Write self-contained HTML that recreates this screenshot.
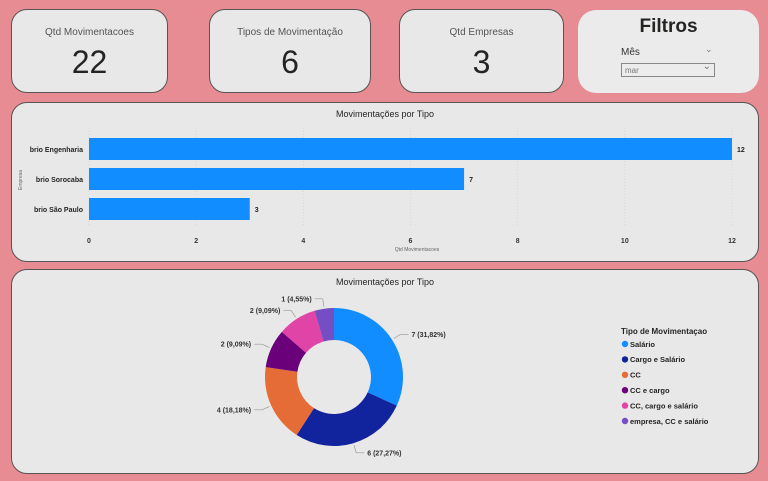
<!DOCTYPE html>
<html><head><meta charset="utf-8"><style>
body{margin:0;width:768px;height:481px;background:#e88c94;font-family:"Liberation Sans","DejaVu Sans",sans-serif;position:relative;overflow:hidden}
.card{position:absolute;background:#e8e8e8;border:1px solid #555;border-radius:16px;box-sizing:border-box}
.kpi .lbl{position:absolute;top:17px;width:100%;text-align:center;font-size:10px;color:#555}
.kpi .val{position:absolute;top:34px;width:100%;text-align:center;font-size:32px;color:#252423}
svg text{font-family:"Liberation Sans","DejaVu Sans",sans-serif}
</style></head><body>
<div class="card kpi" style="left:11px;top:9px;width:157px;height:84px"><div class="lbl">Qtd Movimentacoes</div><div class="val">22</div></div>
<div class="card kpi" style="left:209px;top:9px;width:162px;height:84px"><div class="lbl">Tipos de Movimentação</div><div class="val">6</div></div>
<div class="card kpi" style="left:399px;top:9px;width:165px;height:84px"><div class="lbl">Qtd Empresas</div><div class="val">3</div></div>
<div style="position:absolute;left:578px;top:10px;width:181px;height:83px;background:#ebebeb;border-radius:18px">
<div style="position:absolute;top:6px;width:100%;text-align:center;font-size:19px;font-weight:bold;color:#252423">Filtros</div>
<div style="position:absolute;left:43px;top:37px;font-size:10px;color:#333">Mês</div>
<div style="position:absolute;left:127px;top:34px;font-size:9px;color:#777">&#8964;</div>
<div style="position:absolute;left:43px;top:53px;width:94px;height:14px;border:1px solid #888;box-sizing:border-box;font-size:8px;color:#777;padding:2px 3px;background:#ececec">mar<span style="position:absolute;right:3px;top:-3px;font-size:10px">&#8964;</span></div>
</div>
<div class="card" style="left:11px;top:102px;width:748px;height:160px"></div>
<div class="card" style="left:11px;top:269px;width:748px;height:205px"></div>
<svg id="chart" width="768" height="481" style="position:absolute;left:0;top:0"></svg>
<script>
const companies=["brio Engenharia","brio Sorocaba","brio São Paulo"];
const counts=[12,7,3];
const xTicks=[0,2,4,6,8,10,12];
const types=["Salário","Cargo e Salário","CC","CC e cargo","CC, cargo e salário","empresa, CC e salário"];
const typeCounts=[7,6,4,2,2,1];
const typeColors=["#118dff","#12239e","#e66c37","#6b007b","#e044a7","#744ec2"];
const NS="http://www.w3.org/2000/svg";
const svg=document.getElementById('chart');
function mk(tag,attrs,parent){const e=document.createElementNS(NS,tag);for(const k in attrs)e.setAttribute(k,attrs[k]);(parent||svg).appendChild(e);return e;}
function txt(s,attrs){const e=mk('text',attrs);e.textContent=s;return e;}
// bar chart
const x0=89,x1=732,xMax=12;
const xs=v=>x0+(v/xMax)*(x1-x0);
const bandTop=134,bandH=30;
const ys=i=>bandTop+i*bandH;
let t=txt("Movimentações por Tipo",{x:385,y:117,'text-anchor':'middle','font-size':9,fill:'#252423'});

xTicks.forEach(v=>{
 const g=mk('line',{x1:xs(v),x2:xs(v),y1:128,y2:226,stroke:'#d0d0d0','stroke-dasharray':'1,2','stroke-width':0.7});
 
 const l=txt(String(v),{x:xs(v),y:243,'text-anchor':'middle','font-size':7,'font-weight':'bold',fill:'#333'});
 
});
t=txt("Qtd Movimentacoes",{x:417,y:251,'text-anchor':'middle','font-size':5,fill:'#666'});

t=txt("Empresa",{x:0,y:0,'text-anchor':'middle','font-size':5,fill:'#666',transform:'translate(22,180) rotate(-90)'});

companies.forEach((c,i)=>{
 const y=ys(i);
 const r=mk('rect',{x:xs(0),y:y+4,width:xs(counts[i])-xs(0),height:22,fill:'#118dff'});
 
 const l=txt(c,{x:83,y:y+18,'text-anchor':'end','font-size':7,'font-weight':'bold',fill:'#252423'});
 
 const v=txt(String(counts[i]),{x:xs(counts[i])+5,y:y+18,'font-size':7,'font-weight':'bold',fill:'#252423'});
 
});
// donut
t=txt("Movimentações por Tipo",{x:385,y:285,'text-anchor':'middle','font-size':9,fill:'#252423'});

const cx=334,cy=377,R=69,r0=37;
const total=typeCounts.reduce((a,b)=>a+b,0);
let a=0;
typeCounts.forEach((v,i)=>{
 const a1=a,a2=a+v/total*2*Math.PI;a=a2;
 const p=(ang,rad)=>[cx+rad*Math.sin(ang),cy-rad*Math.cos(ang)];
 const large=(a2-a1)>Math.PI?1:0;
 const [ax,ay]=p(a1,R),[bx,by]=p(a2,R),[cx2,cy2]=p(a2,r0),[dx,dy]=p(a1,r0);
 const s=mk('path',{d:`M${ax},${ay}A${R},${R} 0 ${large} 1 ${bx},${by}L${cx2},${cy2}A${r0},${r0} 0 ${large} 0 ${dx},${dy}Z`,fill:typeColors[i]});
 
 const m=(a1+a2)/2;
 const [ex,ey]=p(m,R+2),[fx,fy]=p(m,R+10);
 const right=Math.sin(m)>=0;
 const gx=fx+(right?8:-8);
 const ln=mk('polyline',{points:`${ex},${ey} ${fx},${fy} ${gx},${fy}`,fill:'none',stroke:'#999','stroke-width':0.7});
 
 const pct=(v/total*100).toFixed(2).replace('.',',');
 const l=txt(`${v} (${pct}%)`,{x:gx+(right?3:-3),y:fy+2.5,'text-anchor':right?'start':'end','font-size':7,'font-weight':'bold',fill:'#333'});
 
});
t=txt("Tipo de Movimentaçao",{x:621,y:334,'font-size':8,'font-weight':'bold',fill:'#252423'});

types.forEach((n,i)=>{
 const y=344+i*15.4;
 const c=mk('circle',{cx:625,cy:y,r:3.2,fill:typeColors[i]});
 
 const l=txt(n,{x:630,y:y+2.8,'font-size':7.5,'font-weight':'bold',fill:'#252423'});
 
});
</script>
</body></html>
